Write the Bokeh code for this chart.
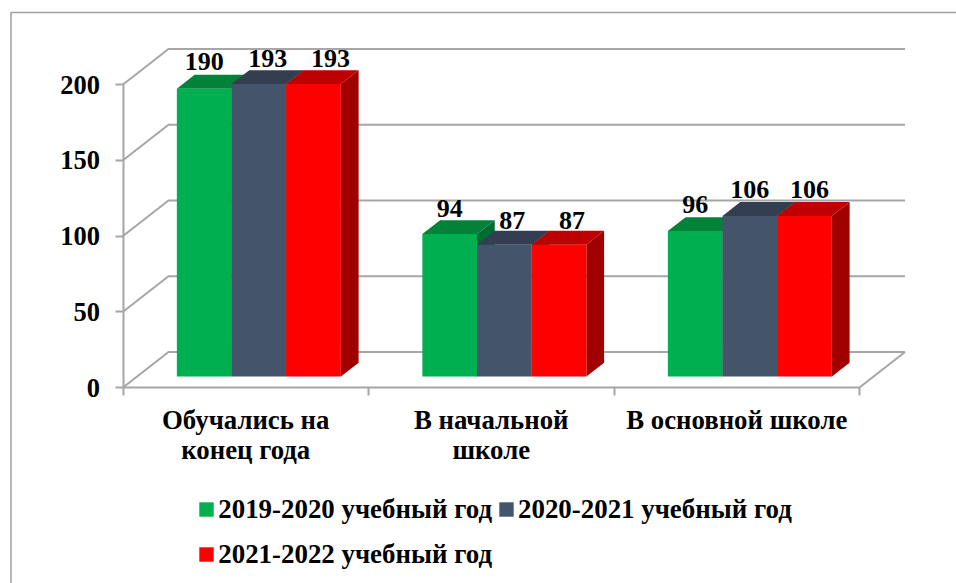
from bokeh.embed import file_html
from bokeh.resources import INLINE
from bokeh.plotting import figure
from bokeh.models import (ColumnDataSource, FixedTicker, BoxAnnotation, Legend, LegendItem, Range1d)
from bokeh.core.properties import value

categories = ["Обучались на\nконец года", "В начальной\nшколе", "В основной школе"]
series_names = ["2019-2020 учебный год", "2020-2021 учебный год", "2021-2022 учебный год"]
values_2019 = [190, 94, 96]
values_2020 = [193, 87, 106]
values_2021 = [193, 87, 106]
y_ticks = [0, 50, 100, 150, 200]

front_colors = ["#00B050", "#44546A", "#FF0000"]
top_colors = ["#008238", "#333F50", "#BF0000"]
side_colors = ["#006C30", "#2A3442", "#A00000"]
grid_color = "#A6A6A6"
FONT = "Liberation Serif"

# placement of the labels, in screen pixels relative to the centre of the bar's front face
label_dx = [[0, 0, 0], [9, 8, 0], [17, 13, 5]]
label_dy = [[27, 26, 27], [26, 24, 26], [26, 24, 26]]

W, H = 956, 583
cat_px = 245.5
unit_px = 1.515
ox, oy = 122.5, 387    # where the axes cross, in canvas pixels

wall_dx, wall_dy = 45.5 / cat_px, 35.5 / unit_px     # depth of the chart box
bar_frac0, bar_frac1 = 0.31, 0.70                    # depth span of the bars
bar_shift = -1 / cat_px
bar_w = 54.67 / cat_px

p = figure(width=W, height=H, output_backend="svg", toolbar_location=None,
           x_range=Range1d(-ox / cat_px, (W - ox) / cat_px),
           y_range=Range1d(-(H - oy) / unit_px, oy / unit_px),
           min_border_left=0, min_border_right=0, min_border_top=0, min_border_bottom=0,
           background_fill_color="white", border_fill_color="white", outline_line_color=None)
p.grid.visible = False

# outer frame of the picture
p.add_layout(BoxAnnotation(left=10.5, right=W + 6, top=12, bottom=H + 6,
                           left_units="canvas", right_units="canvas", top_units="canvas", bottom_units="canvas",
                           fill_color=None, line_color="#A0A0A0", line_alpha=1.0, line_width=1.5, level="underlay"))

# walls and floor
gx, gy = [], []
for v in y_ticks:
    gx.append([0, wall_dx, 3 + wall_dx])
    gy.append([v, v + wall_dy, v + wall_dy])
gx.append([3, 3 + wall_dx])
gy.append([0, wall_dy])
p.multi_line(gx, gy, line_color=grid_color, line_width=2)

# bars
all_values = [values_2019, values_2020, values_2021]
src_l = {"x": [], "y": [], "t": [], "xo": [], "yo": []}
legend_items = []
for c in range(len(categories)):
    for s in range(3):
        v = all_values[s][c]
        x0 = c + 0.5 + bar_frac0 * wall_dx + bar_shift + (s - 1.5) * bar_w
        x1 = x0 + bar_w
        b = bar_frac0 * wall_dy
        dx = (bar_frac1 - bar_frac0) * wall_dx
        dy = (bar_frac1 - bar_frac0) * wall_dy
        p.patch([x1, x1 + dx, x1 + dx, x1], [b, b + dy, b + v + dy, b + v], fill_color=side_colors[s], line_color=None)
        p.patch([x0, x0 + dx, x1 + dx, x1], [b + v, b + v + dy, b + v + dy, b + v], fill_color=top_colors[s], line_color=None)
        r = p.quad(left=[x0], right=[x1], bottom=[b], top=[b + v], fill_color=front_colors[s], line_color=None)
        if c == 0:
            legend_items.append(LegendItem(label=series_names[s], renderers=[r]))
        src_l["x"].append((x0 + x1) / 2)
        src_l["y"].append(b + v)
        src_l["t"].append(str(v))
        src_l["xo"].append(label_dx[s][c])
        src_l["yo"].append(-label_dy[s][c])

p.text("x", "y", text="t", x_offset="xo", y_offset="yo", source=ColumnDataSource(src_l),
       text_font=value(FONT), text_font_style="bold", text_font_size="26px",
       text_color="black", text_align="center", text_baseline="alphabetic")

# value axis
ya = p.yaxis[0]
ya.fixed_location = 0
ya.ticker = FixedTicker(ticks=y_ticks)
ya.bounds = (0, 200)
ya.axis_line_color = grid_color
ya.axis_line_width = 2
ya.major_tick_line_color = grid_color
ya.major_tick_line_width = 2
ya.major_tick_out = 8
ya.major_tick_in = 0
ya.minor_tick_line_color = None
ya.major_label_standoff = 15
ya.major_label_text_font = FONT
ya.major_label_text_font_style = "bold"
ya.major_label_text_font_size = "26.5px"
ya.major_label_text_color = "black"

# category axis: labels in the middle of each slot, ticks on the slot edges
xa = p.xaxis[0]
xa.fixed_location = 0
xa.ticker = FixedTicker(ticks=[i + 0.5 for i in range(len(categories))], minor_ticks=list(range(len(categories) + 1)))
xa.major_label_overrides = {i + 0.5: t for i, t in enumerate(categories)}
xa.bounds = (0, 3)
xa.axis_line_color = grid_color
xa.axis_line_width = 2
xa.major_tick_line_color = None
xa.major_tick_out = 0
xa.major_tick_in = 0
xa.minor_tick_line_color = grid_color
xa.minor_tick_line_width = 2
xa.minor_tick_out = 8
xa.minor_tick_in = 0
xa.major_label_standoff = 9
xa.major_label_text_font = FONT
xa.major_label_text_font_style = "bold"
xa.major_label_text_font_size = "26.8px"
xa.major_label_text_color = "black"
xa.major_label_text_line_height = 1.03

legend = Legend(items=legend_items, location=(197.25, 9), orientation="horizontal", nrows=2,
                background_fill_alpha=0, border_line_color=None, padding=0, margin=0,
                glyph_width=18, glyph_height=18, label_height=40, spacing=5, label_standoff=3,
                label_text_font=FONT, label_text_font_style="bold", label_text_font_size="26.9px",
                label_text_color="black")
p.add_layout(legend, "center")

open("out.html", "w").write(file_html(p, INLINE))
